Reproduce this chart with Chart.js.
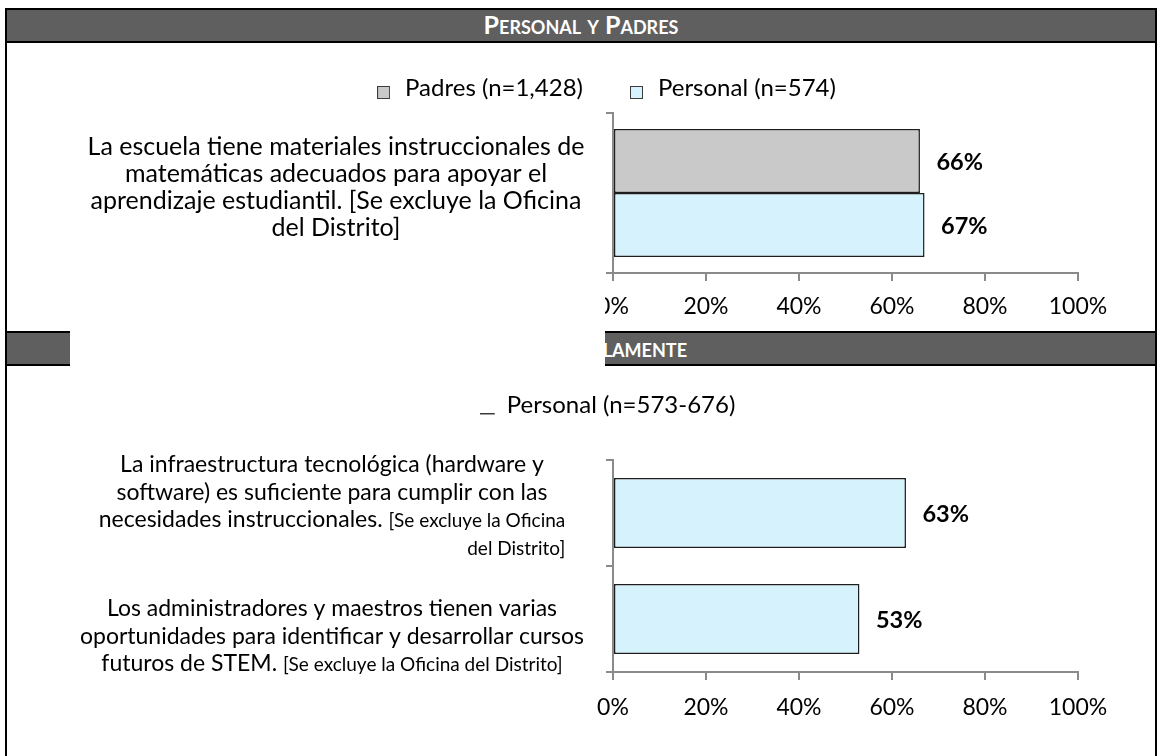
<!DOCTYPE html>
<html><head><meta charset="utf-8">
<script src="https://cdn.jsdelivr.net/npm/chart.js@4.4.1/dist/chart.umd.min.js"></script>
<style>
html,body{margin:0;padding:0;background:#fff;}
body{width:1157px;height:756px;position:relative;overflow:hidden;font-family:Lato,"Open Sans",sans-serif;}
.vline{position:absolute;top:8px;bottom:0;width:2px;background:#000;z-index:6;}
.hdr{position:absolute;left:5px;width:1152px;height:31px;background:#5f5f5f;border-top:2px solid #000;border-bottom:2px solid #000;color:#fff;font-weight:700;font-variant:small-caps;font-size:25px;line-height:29px;}
.hdr span{position:absolute;white-space:nowrap;top:0;}
.box{position:absolute;left:8px;width:1145px;}
#cover{position:absolute;left:70px;top:288px;width:535px;height:80px;background:#fff;z-index:5;}
</style></head>
<body>
<div class="vline" style="left:5px"></div>
<div class="vline" style="left:1155px"></div>
<div class="hdr" id="h1" style="top:8px;text-align:center;z-index:2"></div>
<div class="hdr" id="h2" style="top:331px;z-index:2"><span id="h2t" style="right:470px"></span></div>
<div class="box" style="top:44px;height:288px;z-index:1"><canvas id="c1"></canvas></div>
<div id="cover"></div>
<div class="box" style="top:368px;height:388px;z-index:1"><canvas id="c2"></canvas></div>
<script>
// ---------- data ----------
const headerTitles = ['Personal y Padres', 'Personal Solamente'];
const chart1Categories = [[
  'La escuela tiene materiales instruccionales de',
  'matemáticas adecuados para apoyar el',
  'aprendizaje estudiantil. [Se excluye la Oficina',
  'del Distrito]'
]];
const chart1SeriesNames = ['Padres (n=1,428)', 'Personal (n=574)'];
const chart1Padres = [66];
const chart1Personal = [67];

const chart2Categories = [[
  'La infraestructura tecnológica (hardware y',
  'software) es suficiente para cumplir con las',
  'necesidades instruccionales. [Se excluye la Oficina',
  'del Distrito]'
], [
  'Los administradores y maestros tienen varias',
  'oportunidades para identificar y desarrollar cursos',
  'futuros de STEM. [Se excluye la Oficina del Distrito]'
]];
const chart2SeriesName = 'Personal (n=573-676)';
const chart2Personal = [63, 53];

const xTickValues = [0, 20, 40, 60, 80, 100];
// ---------- end data ----------

document.getElementById('h1').textContent = headerTitles[0];
document.getElementById('h2t').textContent = headerTitles[1];

const FONT = 'Lato';
const TICK = 23, LEG = 24, VAL = 23.5;

const catLabelPlugin = {
  id: 'catLabels',
  afterDraw(chart, args, opts) {
    const ctx = chart.ctx, ys = chart.scales.y;
    ctx.save();
    ctx.fillStyle = '#000';
    ctx.textBaseline = 'alphabetic';
    ctx.textAlign = 'left';
    const fontOf = s => (s ? opts.small : opts.normal) + 'px ' + FONT;
    chart.data.labels.forEach((lines, i) => {
      let inSmall = false;
      const segLines = lines.map(line => {
        const segs = [];
        if (!opts.smallBrackets) { segs.push({t: line, s: false}); return segs; }
        let rest = line;
        while (rest.length) {
          if (inSmall) {
            const k = rest.indexOf(']');
            if (k < 0) { segs.push({t: rest, s: true}); rest = ''; }
            else { segs.push({t: rest.slice(0, k + 1), s: true}); rest = rest.slice(k + 1); inSmall = false; }
          } else {
            const k = rest.indexOf('[');
            if (k < 0) { segs.push({t: rest, s: false}); rest = ''; }
            else { if (k > 0) segs.push({t: rest.slice(0, k), s: false}); rest = rest.slice(k); inSmall = true; }
          }
        }
        return segs;
      });
      const widths = segLines.map(segs => segs.reduce((w, sg) => { ctx.font = fontOf(sg.s); return w + ctx.measureText(sg.t).width; }, 0));
      const n = lines.length;
      const yc = ys.getPixelForValue(i) + (opts.dy[i] || 0);
      const top = yc - (n - 1) * opts.lineHeight / 2;
      let prevRight = null;
      segLines.forEach((segs, j) => {
        const al = opts.align && opts.align[i] && opts.align[i][j] || 'center';
        let x = (al === 'right' && prevRight !== null) ? prevRight - widths[j] : opts.cx - widths[j] / 2;
        const base = top + j * opts.lineHeight + 8.5;
        segs.forEach(sg => { ctx.font = fontOf(sg.s); ctx.fillText(sg.t, x, base); x += ctx.measureText(sg.t).width; });
        prevRight = x;
      });
    });
    ctx.restore();
  }
};

const valueLabelPlugin = {
  id: 'valueLabels',
  afterDatasetsDraw(chart, args, opts) {
    const ctx = chart.ctx;
    ctx.save();
    ctx.font = 'bold ' + VAL + 'px ' + FONT;
    ctx.fillStyle = '#000';
    ctx.textAlign = 'left';
    ctx.textBaseline = 'middle';
    chart.data.datasets.forEach((ds, di) => {
      chart.getDatasetMeta(di).data.forEach((bar, i) => {
        ctx.fillText(ds.data[i] + '%', bar.x + opts.gap, bar.y + 1);
      });
    });
    ctx.restore();
  }
};

const legendPlace = {
  id: 'legendPlace',
  beforeLayout(chart, args, opts) {
    const lg = chart.legend;
    if (lg && !lg._patched) {
      const f = lg.fit;
      lg.fit = function () { f.call(this); this.height = opts.height; };
      lg._patched = true;
    }
  },
  afterLayout(chart, args, opts) {
    const lg = chart.legend;
    const pad = lg.options.labels.padding;
    const dx = opts.cx - (lg.left + lg.right) / 2;
    lg.left += dx; lg.right += dx;
    lg.top = opts.cy - pad - LEG / 2;
  }
};

const AX = '#8a8a8a';
function xScale(h, pad) {
  return {
    min: 0, max: 100,
    afterBuildTicks(s) { s.ticks = xTickValues.map(v => ({value: v})); },
    ticks: {callback: v => v + '%', color: '#000', font: {family: FONT, size: TICK}, padding: pad, maxRotation: 0},
    grid: {drawOnChartArea: false, drawTicks: true, tickLength: 8, color: AX, lineWidth: 2},
    border: {color: AX, width: 2},
    afterFit(s) { s.paddingLeft = 0; s.paddingRight = 0; s.height = h; }
  };
}
const yScale = {
  ticks: {display: false},
  grid: {drawOnChartArea: false, drawTicks: true, tickLength: 7, color: AX, lineWidth: 2, offset: true},
  border: {color: AX, width: 2},
  afterFit(s) { s.width = 605; }
};

const GRAY = '#c9c9c9', BLUE = '#d6f2fc', EDGE = '#1e1e1e';

function boxMarker(fill) {
  const c = document.createElement('canvas');
  c.width = 13; c.height = 24;
  const m = c.getContext('2d');
  m.fillStyle = fill; m.fillRect(0.5, 10.5, 12, 12);
  m.strokeStyle = '#3c3c3c'; m.lineWidth = 1; m.strokeRect(0.5, 10.5, 12, 12);
  return c;
}
const boxMarkers = [boxMarker(GRAY), boxMarker(BLUE)];

new Chart(document.getElementById('c1'), {
  type: 'bar',
  data: {
    labels: chart1Categories,
    datasets: [
      {label: chart1SeriesNames[0], data: chart1Padres, backgroundColor: GRAY, borderColor: EDGE, borderWidth: 1.5, borderSkipped: false, categoryPercentage: 0.8, barPercentage: 1},
      {label: chart1SeriesNames[1], data: chart1Personal, backgroundColor: BLUE, borderColor: EDGE, borderWidth: 1.5, borderSkipped: false, categoryPercentage: 0.8, barPercentage: 1}
    ]
  },
  options: {
    indexAxis: 'y', responsive: true, maintainAspectRatio: false, animation: false,
    layout: {padding: {left: 0, right: 75, top: 0, bottom: 0}},
    scales: {x: xScale(59, 12), y: yScale},
    plugins: {
      tooltip: {enabled: false},
      legend: {
        position: 'top',
        labels: {
          usePointStyle: true, pointStyleWidth: 19, padding: 44, color: '#000', font: {family: FONT, size: LEG},
          generateLabels(chart) {
            const items = Chart.defaults.plugins.legend.labels.generateLabels(chart);
            items.forEach((it, i) => { it.pointStyle = boxMarkers[i]; });
            return items;
          }
        }
      },
      legendPlace: {height: 69, cx: 597, cy: 44},
      catLabels: {cx: 328, lineHeight: 27, dy: [-6.5], smallBrackets: false, normal: 25, small: 19},
      valueLabels: {gap: 16.5}
    }
  },
  plugins: [legendPlace, catLabelPlugin, valueLabelPlugin]
});

const marker = document.createElement('canvas');
marker.width = 16; marker.height = 24;
(function () {
  const m = marker.getContext('2d');
  m.fillStyle = '#3c3c3c';
  m.fillRect(0, 20, 15, 1.5);
})();

new Chart(document.getElementById('c2'), {
  type: 'bar',
  data: {
    labels: chart2Categories,
    datasets: [
      {label: chart2SeriesName, data: chart2Personal, backgroundColor: BLUE, borderColor: EDGE, borderWidth: 1.5, borderSkipped: false, categoryPercentage: 1, barPercentage: 0.66}
    ]
  },
  options: {
    indexAxis: 'y', responsive: true, maintainAspectRatio: false, animation: false,
    layout: {padding: {left: 0, right: 75, top: 0, bottom: 0}},
    scales: {x: xScale(84, 14), y: yScale},
    plugins: {
      tooltip: {enabled: false},
      legend: {
        position: 'top',
        labels: {usePointStyle: true, pointStyle: marker, pointStyleWidth: 14, padding: 10, color: '#000', font: {family: FONT, size: LEG}}
      },
      legendPlace: {height: 92, cx: 600, cy: 37},
      catLabels: {cx: 324, lineHeight: 27.5, dy: [-8, 16], smallBrackets: true, align: [[null, null, null, 'right']], normal: 23, small: 19},
      valueLabels: {gap: 16.5}
    }
  },
  plugins: [legendPlace, catLabelPlugin, valueLabelPlugin]
});
</script>
</body></html>
